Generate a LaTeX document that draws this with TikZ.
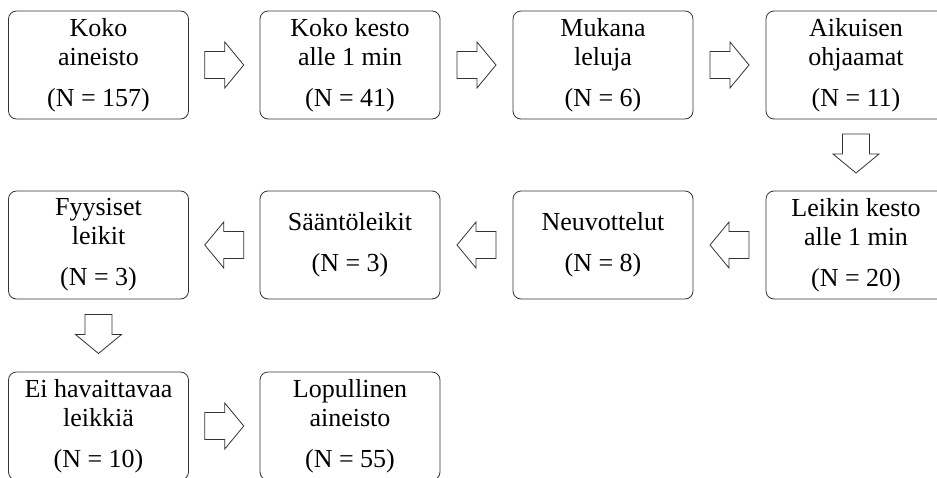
\documentclass[tikz,border=0pt]{standalone}
\usepackage{fontspec}
\setmainfont{Liberation Serif}
\usetikzlibrary{calc}
\begin{document}
\begin{tikzpicture}[x=1pt,y=-1pt,
  box/.style={draw=black!80, line width=0.8pt, rounded corners=8pt,
    minimum width=180pt, minimum height=108pt, align=center,
    font=\fontsize{26}{29}\selectfont, inner sep=0pt},
  blockarrow/.style={draw=black!80, line width=0.8pt, fill=white, line join=miter},
  rarr/.pic={\draw[blockarrow] (-19.5,-13.5) -- (0.5,-13.5) -- (0.5,-23) -- (19.5,0)
     -- (0.5,23) -- (0.5,13.5) -- (-19.5,13.5) -- cycle;}]
\clip (0,0) rectangle (937,477);
% row 1
\node[box] (a1) at (98.5,65) {Koko\\aineisto\\[12pt](N = 157)};
\node[box] (a2) at (350,65) {Koko kesto\\alle 1 min\\[12pt](N = 41)};
\node[box] (a3) at (603,65) {Mukana\\leluja\\[12pt](N = 6)};
\node[box] (a4) at (856,65) {Aikuisen\\ohjaamat\\[12pt](N = 11)};
% row 2
\node[box] (b1) at (98.5,245) {Fyysiset\\leikit\\[12pt](N = 3)};
\node[box] (b2) at (350,245) {Sääntöleikit\\[12pt](N = 3)};
\node[box] (b3) at (603,245) {Neuvottelut\\[12pt](N = 8)};
\node[box] (b4) at (856,245) {Leikin kesto\\alle 1 min\\[12pt](N = 20)};
% row 3
\node[box] (c1) at (98.5,426) {Ei havaittavaa\\leikkiä\\[12pt](N = 10)};
\node[box] (c2) at (350,426) {Lopullinen\\aineisto\\[12pt](N = 55)};
% arrows
\pic at ($(a1.east)!0.5!(a2.west)$) {rarr};
\pic at ($(a2.east)!0.5!(a3.west)$) {rarr};
\pic at ($(a3.east)!0.5!(a4.west)$) {rarr};
\pic[rotate=-90] at ($(a4.south)!0.5!(b4.north)+(0,-1.5)$) {rarr};
\pic[rotate=180] at ($(b4.west)!0.5!(b3.east)$) {rarr};
\pic[rotate=180] at ($(b3.west)!0.5!(b2.east)$) {rarr};
\pic[rotate=180] at ($(b2.west)!0.5!(b1.east)$) {rarr};
\pic[rotate=-90] at ($(b1.south)!0.5!(c1.north)+(0,-1.5)$) {rarr};
\pic at ($(c1.east)!0.5!(c2.west)$) {rarr};
\end{tikzpicture}
\end{document}
